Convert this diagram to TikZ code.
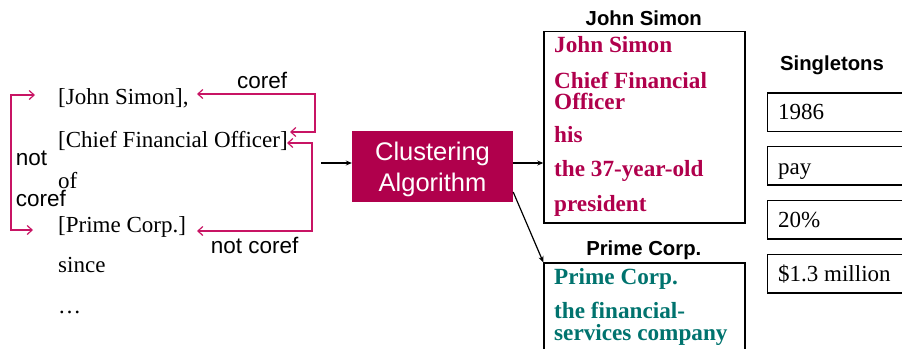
\documentclass[tikz,border=0pt]{standalone}
\usepackage{fontspec}
\setmainfont{Liberation Serif}
\setsansfont{Liberation Sans}
\usetikzlibrary{arrows.meta}
\definecolor{mag}{RGB}{176,0,76}
\definecolor{magline}{RGB}{200,20,100}
\definecolor{tealc}{RGB}{0,115,110}
\begin{document}
\begin{tikzpicture}[x=1pt,y=-1pt,
  serif/.style={anchor=base west,inner sep=0pt,font=\fontsize{23}{23}\selectfont},
  lab/.style={anchor=base west,inner sep=0pt,font=\sffamily\fontsize{22.5}{22.5}\selectfont},
  ttl/.style={anchor=base,inner sep=0pt,font=\sffamily\bfseries\fontsize{20.3}{20.3}\selectfont},
  mtxt/.style={anchor=base west,inner sep=0pt,font=\bfseries\fontsize{23.2}{23.2}\selectfont,text=mag},
  ttxt/.style={anchor=base west,inner sep=0pt,font=\bfseries\fontsize{23.2}{23.2}\selectfont,text=tealc},
  marr/.style={draw=magline,line width=1.2pt,{Straight Barb[length=5pt,width=9pt]}-{Straight Barb[length=5pt,width=9pt]}},
  barr/.style={draw=black,line width=1.2pt,-{Stealth[length=6pt,width=5pt]}},
  boxx/.style={draw=black,line width=1.2pt,anchor=north west,inner sep=0pt}]
\useasboundingbox (0,0) rectangle (902,348);
\clip (0,0) rectangle (902,348);

% left column
\node[serif] (t1) at (58,104) {[John Simon],};
\node[serif] (t2) at (58,147) {[Chief Financial Officer]};
\node[serif] (t3) at (58,188) {of};
\node[serif] (t4) at (58,232) {[Prime Corp.]};
\node[serif] (t5) at (58,272) {since};
\node[serif] (t6) at (58,313) {…};

\node[lab] (lnot) at (15.7,165) {not};
\node[lab] (lcoref) at (15.7,206.7) {coref};
\node[lab] (rcoref) at (237,88.3) {coref};
\node[lab] (rnot) at (210.7,253) {not coref};

% magenta brackets
\coordinate (la) at (35,95);
\coordinate (lb) at (11,95);
\coordinate (lc) at (11,230);
\coordinate (ld) at (33,230);
\draw[marr] (la) -- (lb) -- (lc) -- (ld);

\coordinate (ra) at (197,94);
\coordinate (rb) at (315,94);
\coordinate (rc) at (315,132);
\coordinate (rd) at (290,132);
\draw[marr] (ra) -- (rb) -- (rc) -- (rd);

\coordinate (sa) at (287,143);
\coordinate (sb) at (312,143);
\coordinate (sc) at (312,231);
\coordinate (sd) at (197,231);
\draw[marr] (sa) -- (sb) -- (sc) -- (sd);

% clustering
\node[fill=mag,minimum width=161pt,minimum height=71pt,inner sep=0pt] (clu) at (432.5,166.5) {};
\node[anchor=base,inner sep=0pt,text=white,font=\sffamily\fontsize{25.5}{30}\selectfont] (c1) at (432.5,160) {Clustering};
\node[anchor=base,inner sep=0pt,text=white,font=\sffamily\fontsize{25.5}{30}\selectfont] (c2) at (432.5,191) {Algorithm};

% John Simon cluster
\node[ttl] (jst) at (643.8,25) {John Simon};
\node[boxx,minimum width=201pt,minimum height=191.6pt] (js) at (543.3,30.7) {};
\node[mtxt] (j1) at (554,52.7) {John Simon};
\node[mtxt] (j2) at (554,88.3) {Chief Financial};
\node[mtxt] (j3) at (554,109.3) {Officer};
\node[mtxt] (j4) at (554,142.7) {his};
\node[mtxt] (j5) at (554,176.7) {the 37-year-old};
\node[mtxt] (j6) at (554,211.7) {president};

% Prime Corp cluster
\node[ttl] (pct) at (643.8,255) {Prime Corp.};
\node[boxx,minimum width=201pt,minimum height=120pt] (pc) at (543.3,262.3) {};
\node[ttxt] (p1) at (554,284.3) {Prime Corp.};
\node[ttxt] (p2) at (554,318.3) {the financial-};
\node[ttxt] (p3) at (554,340) {services company};

% black arrows
\coordinate (in) at (321,163);
\draw[barr] (in) -- (in -| clu.west);
\coordinate (o1) at (513,163);
\draw[barr] (o1 -| clu.east) -- (o1 -| js.west);
\coordinate (o2) at (513,192);
\draw[barr] (o2 -| clu.east) -- (pc.north west);

% singletons
\node[ttl] (sgt) at (832,70.7) {Singletons};
\node[boxx,minimum width=180pt,minimum height=38.4pt] (s1) at (767,92.3) {};
\node[boxx,minimum width=180pt,minimum height=38.4pt] (s2) at (767,146) {};
\node[boxx,minimum width=180pt,minimum height=38.4pt] (s3) at (767,200) {};
\node[boxx,minimum width=180pt,minimum height=38.4pt] (s4) at (767,254) {};
\node[serif] (s1t) at (778,119.3) {1986};
\node[serif] (s2t) at (778,174) {pay};
\node[serif] (s3t) at (778,227.7) {20\%};
\node[serif] (s4t) at (778,281.7) {\$1.3 million};
\end{tikzpicture}
\end{document}
